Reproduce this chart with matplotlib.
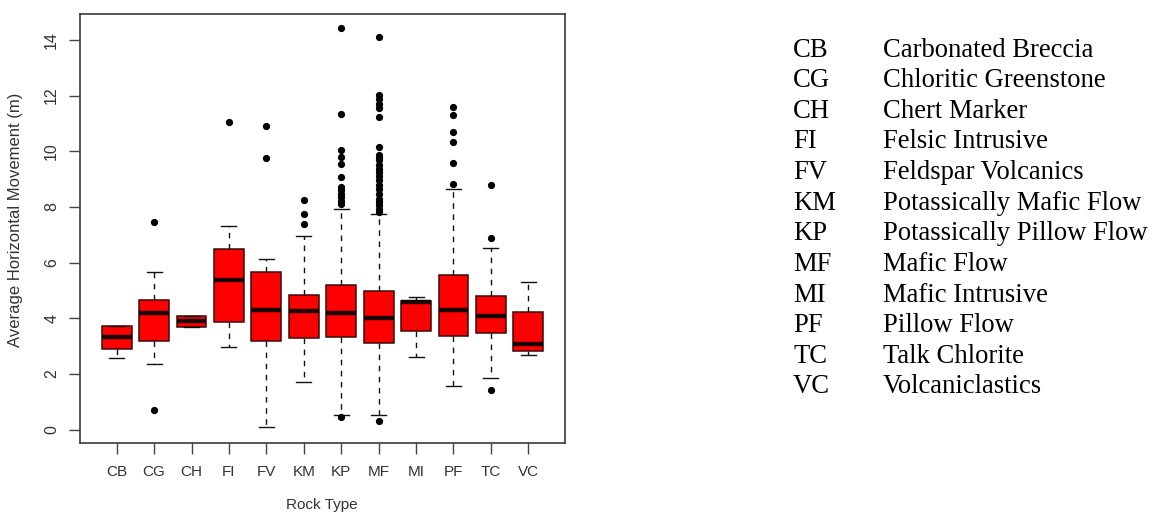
import matplotlib
matplotlib.use("Agg")
import matplotlib.pyplot as plt

categories = ['CB', 'CG', 'CH', 'FI', 'FV', 'KM', 'KP', 'MF', 'MI', 'PF', 'TC', 'VC']
q1 = [2.88, 3.19, 3.67, 3.85, 3.19, 3.28, 3.31, 3.10, 3.54, 3.35, 3.46, 2.84]
medians = [3.31, 4.19, 3.92, 5.37, 4.31, 4.27, 4.19, 4.01, 4.57, 4.31, 4.09, 3.06]
q3 = [3.73, 4.67, 4.09, 6.48, 5.65, 4.85, 5.20, 4.98, 4.63, 5.56, 4.80, 4.22]
whisker_low = [2.57, 2.34, 3.67, 2.97, 0.08, 1.72, 0.54, 0.54, 2.62, 1.56, 1.87, 2.67]
whisker_high = [3.73, 5.68, 4.09, 7.30, 6.13, 6.94, 7.92, 7.74, 4.75, 8.66, 6.53, 5.29]
outliers_CB = []
outliers_CG = [7.45, 0.72]
outliers_CH = []
outliers_FI = [11.04]
outliers_FV = [10.91, 9.75]
outliers_KM = [8.24, 7.76, 7.39]
outliers_KP = [14.44, 11.32, 10.04, 9.79, 9.55, 9.06, 8.72, 8.59, 8.47, 8.35, 8.22, 8.10, 0.46]
outliers_MF = [14.12, 12.02, 11.87, 11.71, 11.55, 11.22, 10.16, 9.87, 9.77, 9.67, 9.52,
               9.38, 9.26, 9.12, 8.97, 8.79, 8.64, 8.47, 8.29, 8.16, 8.07, 7.92, 7.81, 0.32]
outliers_MI = []
outliers_PF = [11.58, 11.31, 10.68, 10.33, 9.58, 8.82]
outliers_TC = [8.77, 6.90, 1.44]
outliers_VC = []
outliers = [outliers_CB, outliers_CG, outliers_CH, outliers_FI, outliers_FV, outliers_KM,
            outliers_KP, outliers_MF, outliers_MI, outliers_PF, outliers_TC, outliers_VC]

legend_codes = categories
legend_names = ['Carbonated Breccia', 'Chloritic Greenstone', 'Chert Marker', 'Felsic Intrusive',
                'Feldspar Volcanics', 'Potassically Mafic Flow', 'Potassically Pillow Flow',
                'Mafic Flow', 'Mafic Intrusive', 'Pillow Flow', 'Talk Chlorite', 'Volcaniclastics']
y_ticks = [0, 2, 4, 6, 8, 10, 12, 14]

W, H = 1152, 515
fig = plt.figure(figsize=(W / 100, H / 100), dpi=100)
ax = fig.add_axes([80 / W, 1 - 443 / H, 485 / W, 429 / H])

stats = []
for i, c in enumerate(categories):
    stats.append(dict(label=c, med=medians[i], q1=q1[i], q3=q3[i],
                      whislo=whisker_low[i], whishi=whisker_high[i], fliers=outliers[i]))

positions = list(range(1, len(categories) + 1))
ax.bxp(stats, positions=positions, widths=0.8, capwidths=0.4, patch_artist=True,
       showfliers=True,
       boxprops=dict(facecolor='#ff0000', edgecolor='#3a0a0a', linewidth=1.1),
       medianprops=dict(color='#1a0000', linewidth=3.2, solid_capstyle='butt'),
       whiskerprops=dict(color='#111111', linewidth=1.0, linestyle=(0, (4, 4))),
       capprops=dict(color='#111111', linewidth=1.0),
       flierprops=dict(marker='o', markerfacecolor='black', markeredgecolor='black',
                       markersize=4.2, linestyle='none'))

ax.set_xlim(0.02, 12.98)
ax.set_ylim(-0.48, 14.93)
ax.set_xticks(positions)
ax.set_xticklabels(categories, fontsize=11, family='Liberation Sans', color='#333333')
ax.set_yticks(y_ticks)
ax.set_yticklabels([str(t) for t in y_ticks], fontsize=11.5, family='Liberation Sans',
                   color='#333333', rotation=90, va='center')
ax.tick_params(axis='y', length=8, width=1, color='#444444', pad=7)
ax.tick_params(axis='x', length=8, width=1, color='#444444', pad=8)
for s in ax.spines.values():
    s.set_color('#3a3a3a')
    s.set_linewidth(1.2)

fig.text(16 / W, 1 - 220 / H, 'Average Horizontal Movement (m)', rotation=90, ha='center',
         va='center', fontsize=12, family='Liberation Sans', color='#333333')
fig.text(322 / W, 1 - 505 / H, 'Rock Type', ha='center', va='center', fontsize=11,
         family='Liberation Sans', color='#333333')

for i, (code, name) in enumerate(zip(legend_codes, legend_names)):
    yb = 56.7 + i * 30.6
    fig.text(793 / W, 1 - yb / H, code, ha='left', va='baseline', fontsize=19.2,
             family='Liberation Serif', color='black')
    fig.text(883 / W, 1 - yb / H, name, ha='left', va='baseline', fontsize=19.2,
             family='Liberation Serif', color='black')

fig.savefig('out.png', dpi=100)
